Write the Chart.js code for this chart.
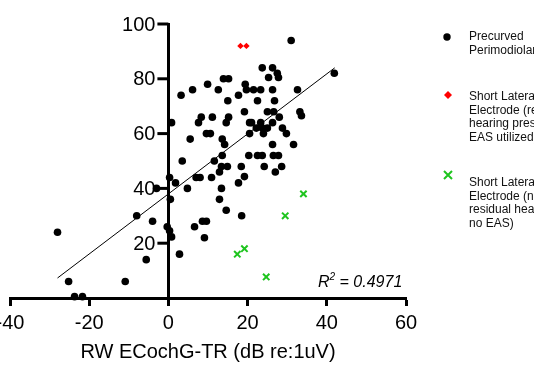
<!DOCTYPE html>
<html>
<head>
<meta charset="utf-8">
<script src="https://cdn.jsdelivr.net/npm/chart.js@4.4.1/dist/chart.umd.min.js"></script>
<style>
  html, body { margin: 0; padding: 0; background: #fff; overflow: hidden; }
  #wrap { position: absolute; left: -20px; top: 0; width: 554px; height: 372px; }
</style>
</head>
<body>
<div id="wrap"><canvas id="myChart"></canvas></div>
<script>
// values
const precurvedX = [0.8, 3.2, 6.1, 9.9, 12.6, 13.9, 15.2, 15, 17.7, 19.4,
  19.7, 21.5, 23.3, 19.2, 20.5, 8.3, 7.6, 11.1, 15.2, 14.6,
  9.6, 10.6, 5.5, 13.6, 14.2, 20.5, 21, 23.3, 23.7, 26.3,
  25.3, 27.5, 27.8, 26.3, 32.6, 22.5, 26.8, 41.9, 25, 26.6,
  33.2, 33.6, 28, 26.3, 22.2, 23.7, 25, 28.8, 29.8, 24, 26.3,
  31.6, 31,
  13.6, 20.3, 22.5, 23.7, 26.5, 27.8, 3.5, 11.6, 13.4, 14.9,
  18.4, 24.2, 28.6, 12.9, 27, 19.2, 17.7, 0.3, 1.8, 7,
  8, 10.9, 4.8, 13.4, -3, 0.5, 12.9, 14.6, 18.5, 8.6,
  9.6, 6.6, -0.3, 0.3, 0.8, 9.1, 2.8, -8, -4, -28,
  -5.6, -25.2, -10.9, -23.7, -21.7];
const precurvedY = [64, 74, 76, 78, 76, 80, 80, 72, 74, 78,
  76, 76, 76, 68, 64, 66, 64, 66, 66, 64,
  60, 60, 58, 58, 56, 60, 64, 64, 84, 84,
  80.5, 82, 80.5, 76, 76, 72, 72, 82, 68, 68,
  68, 66.5, 66, 64, 62, 62, 62, 62, 60, 60, 56,
  56, 94,
  52, 52, 52, 52, 52, 52, 50, 50, 48, 48,
  48, 48, 48, 46, 46, 44.3, 42, 44, 42, 44,
  44, 44, 40, 40, 40, 36, 36, 32, 30, 28,
  28, 26, 26, 24.5, 22.3, 22, 16, 30, 28, 24,
  14, 6, 6, 0.5, 0.5];

const easX = [18.2, 19.7];
const easY = [92, 92];

const noEasX = [17.4, 19.2, 24.7, 29.5, 34.1];
const noEasY = [16, 18, 7.7, 30, 38];

const fitX = [-28, 42];
const fitY = [7.3, 84];

const xTicks = [-40, -20, 0, 20, 40, 60];
const yTicks = [20, 40, 60, 80, 100];

const legendLines = [
  ['Precurved', 'Perimodiolar'],
  ['Short Lateral', 'Electrode (residual', 'hearing preserved,', 'EAS utilized)'],
  ['Short Lateral', 'Electrode (no', 'residual hearing,', 'no EAS)']
];

const SHIFT = 20; // canvas sits 20px left of the page
const FONT = "'Liberation Sans', Arial, Helvetica, sans-serif";

function pts(xs, ys) {
  return xs.map((x, i) => ({x: x, y: ys[i]}));
}

const extras = {
  id: 'extras',
  afterDraw(chart) {
    const ctx = chart.ctx;
    const xs = chart.scales.x, ys = chart.scales.y;
    ctx.save();

    // y axis ticks + labels, left of the axis placed at x = 0
    const x0 = xs.getPixelForValue(0);
    ctx.strokeStyle = '#000';
    ctx.lineWidth = 3;
    ctx.fillStyle = '#000';
    ctx.font = '20px ' + FONT;
    ctx.textAlign = 'right';
    ctx.textBaseline = 'middle';
    ys.ticks.forEach(t => {
      const py = ys.getPixelForValue(t.value);
      ctx.beginPath();
      ctx.moveTo(x0 - 11, py);
      ctx.lineTo(x0, py);
      ctx.stroke();
      ctx.fillText(String(t.value), x0 - 13, py + 1);
    });

    // R squared
    ctx.textBaseline = 'alphabetic';
    ctx.textAlign = 'left';
    let x = 318 + SHIFT, y = 287;
    ctx.font = 'italic 16px ' + FONT;
    ctx.fillText('R', x, y);
    x += ctx.measureText('R').width;
    ctx.font = 'italic 10px ' + FONT;
    ctx.fillText('2', x, y - 7);
    x += ctx.measureText('2').width;
    ctx.font = 'italic 16px ' + FONT;
    ctx.fillText(' = 0.4971', x, y);

    // legend
    const mx = 447 + SHIFT, tx = 469 + SHIFT;
    const starts = [37, 97, 183];
    const marks = [37, 95, 175];
    ctx.font = '12px ' + FONT;
    ctx.textBaseline = 'middle';
    legendLines.forEach((lines, k) => {
      ctx.fillStyle = '#111';
      lines.forEach((t, j) => ctx.fillText(t, tx, starts[k] + j * 13.5));
    });
    ctx.fillStyle = '#000';
    ctx.beginPath();
    ctx.arc(mx, marks[0], 3.7, 0, Math.PI * 2);
    ctx.fill();
    ctx.fillStyle = '#ff0000';
    ctx.beginPath();
    ctx.moveTo(mx + 1, marks[1] - 4);
    ctx.lineTo(mx + 5, marks[1]);
    ctx.lineTo(mx + 1, marks[1] + 4);
    ctx.lineTo(mx - 3, marks[1]);
    ctx.closePath();
    ctx.fill();
    ctx.strokeStyle = '#1ec41e';
    ctx.lineWidth = 2;
    ctx.beginPath();
    ctx.moveTo(mx - 3, marks[2] - 4);
    ctx.lineTo(mx + 5, marks[2] + 4);
    ctx.moveTo(mx + 5, marks[2] - 4);
    ctx.lineTo(mx - 3, marks[2] + 4);
    ctx.stroke();
    ctx.restore();
  }
};

const config = {
  type: 'scatter',
  data: {
    datasets: [
      {
        label: 'fit',
        type: 'line',
        data: pts(fitX, fitY),
        borderColor: '#000',
        borderWidth: 1,
        pointRadius: 0,
        fill: false
      },
      {
        label: 'Precurved Perimodiolar',
        data: pts(precurvedX, precurvedY),
        backgroundColor: '#000',
        borderColor: '#000',
        pointRadius: 3.8,
        borderWidth: 0
      },
      {
        label: 'Short Lateral (EAS)',
        data: pts(easX, easY),
        pointStyle: 'rectRot',
        backgroundColor: '#ff0000',
        borderColor: '#ff0000',
        pointRadius: 3.2,
        borderWidth: 0
      },
      {
        label: 'Short Lateral (no EAS)',
        data: pts(noEasX, noEasY),
        pointStyle: 'crossRot',
        borderColor: '#1ec41e',
        pointRadius: 4.5,
        borderWidth: 2
      }
    ]
  },
  options: {
    responsive: true,
    maintainAspectRatio: false,
    animation: false,
    clip: false,
    layout: {
      padding: {left: 30, right: 128, top: 24, bottom: 0}
    },
    plugins: {
      legend: {display: false},
      tooltip: {enabled: false}
    },
    scales: {
      x: {
        type: 'linear',
        position: 'bottom',
        min: -40,
        max: 60,
        afterBuildTicks: (s) => { s.ticks = xTicks.map(v => ({value: v})); },
        grid: {drawOnChartArea: false, drawTicks: true, tickLength: 8, tickWidth: 3, tickColor: '#000'},
        border: {display: true, color: '#000', width: 3},
        ticks: {color: '#000', padding: 5, font: {size: 20, family: FONT}},
        title: {
          display: true,
          text: 'RW ECochG-TR (dB re:1uV)',
          color: '#000',
          font: {size: 20, family: FONT},
          padding: {top: 0, bottom: 8}
        }
      },
      y: {
        type: 'linear',
        position: {x: 0},
        min: 0,
        max: 100,
        afterBuildTicks: (s) => { s.ticks = yTicks.map(v => ({value: v})); },
        grid: {drawOnChartArea: false, drawTicks: false},
        border: {display: true, color: '#000', width: 3},
        ticks: {display: false}
      }
    }
  },
  plugins: [extras]
};

var myChart = new Chart(document.getElementById('myChart'), config);
</script>
</body>
</html>
